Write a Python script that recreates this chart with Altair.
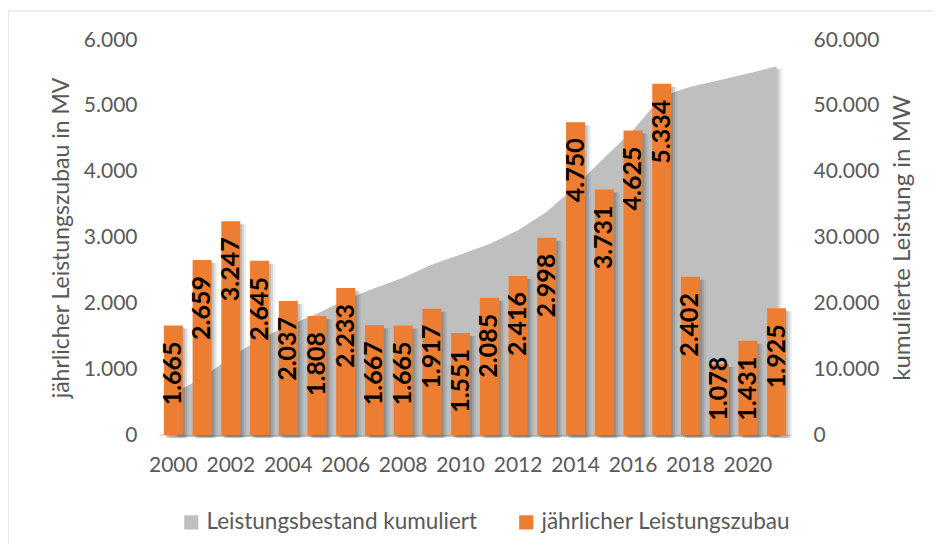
import altair as alt
import pandas as pd

years = list(range(2000, 2022))
zubau = [1665, 2659, 3247, 2645, 2037, 1808, 2233, 1667, 1665, 1917, 1551,
         2085, 2416, 2998, 4750, 3731, 4625, 5334, 2402, 1078, 1431, 1925]
kumuliert = [6300, 8700, 11800, 14600, 16600, 18400, 20600, 22300, 23900, 25900, 27400,
             29000, 31100, 33900, 37800, 42100, 46300, 51400, 52900, 53900, 54900, 56000]
even_years = years[::2]
left_ticks = [0, 1000, 2000, 3000, 4000, 5000, 6000]
right_ticks = [0, 10000, 20000, 30000, 40000, 50000, 60000]

SER_K = "Leistungsbestand kumuliert"
SER_Z = "jährlicher Leistungszubau"

df_z = pd.DataFrame({
    "Jahr": years,
    "zubau": zubau,
    "label": [f"{v:,}".replace(",", ".") for v in zubau],
    "serie": SER_Z,
})
df_k = pd.DataFrame({"Jahr": years, "kum": kumuliert, "serie": SER_K})

FONT = "Lato"
TXT = "#595959"
DE_FMT = "replace(format(datum.value, ','), ',', '.')"

xscale = alt.Scale(paddingInner=0.34, paddingOuter=0.17)
xaxis = alt.Axis(values=even_years, title=None, labelAngle=0, labelFontSize=21,
                 labelColor=TXT, labelPadding=19, ticks=False, grid=False,
                 domainColor="#D9D9D9", domainWidth=1.5)
xenc = alt.X("Jahr:O", scale=xscale, axis=xaxis)

color = alt.Color(
    "serie:N",
    scale=alt.Scale(domain=[SER_K, SER_Z], range=["#BFBFBF", "#ED7D31"]),
    legend=alt.Legend(title=None, orient="none", legendX=21, legendY=471,
                      direction="horizontal", symbolType="square", symbolSize=200,
                      symbolStrokeWidth=0, labelFontSize=22.5, labelColor=TXT,
                      labelFont=FONT, columnPadding=37, labelOffset=4,
                      labelLimit=400),
)

yscale_l = alt.Scale(domain=[0, 6000], nice=False)
yscale_r = alt.Scale(domain=[0, 60000], nice=False)

yaxis_r = alt.Axis(orient="right", values=right_ticks, labelExpr=DE_FMT,
                   title="kumulierte Leistung in MW", grid=False, ticks=False,
                   domain=False, labelFontSize=21, labelColor=TXT,
                   labelPadding=22, titleFontSize=24, titleFontWeight="normal",
                   titleColor=TXT, titlePadding=12, titleAngle=270,
                   titleBaseline="top")
yaxis_l = alt.Axis(orient="left", values=left_ticks, labelExpr=DE_FMT,
                   title="jährlicher Leistungszubau in MV", grid=False,
                   ticks=False, domain=False, labelFontSize=21, labelColor=TXT,
                   labelPadding=22, titleFontSize=23, titleFontWeight="normal",
                   titleColor=TXT, titlePadding=10)

# right axis: cumulative area
area_sh = [
    alt.Chart(df_k).mark_area(color="black", opacity=op, xOffset=k, yOffset=2).encode(
        x=xenc, y=alt.Y("kum:Q", scale=yscale_r, axis=yaxis_r))
    for k, op in [(2, 0.10), (4, 0.08), (6, 0.05)]
]
area = alt.Chart(df_k).mark_area(opacity=1).encode(
    x=xenc,
    y=alt.Y("kum:Q", scale=yscale_r, axis=yaxis_r),
    color=color,
)
right = alt.layer(*area_sh, area)

# left axis: annual bars
bar_sh = [
    alt.Chart(df_z).mark_bar(color="black", opacity=op, xOffset=k, yOffset=3).encode(
        x=xenc, y=alt.Y("zubau:Q", scale=yscale_l, axis=yaxis_l))
    for k, op in [(2, 0.12), (4, 0.10), (6, 0.06)]
]
bars = alt.Chart(df_z).mark_bar().encode(
    x=xenc,
    y=alt.Y("zubau:Q", scale=yscale_l, axis=yaxis_l),
    color=color,
)
labels = alt.Chart(df_z).transform_calculate(
    labpos="max(datum.zubau, 1431)"
).mark_text(angle=270, align="right", baseline="middle", dx=-16, fontSize=25,
            fontWeight="bold", color="black", font=FONT).encode(
    x=xenc, y=alt.Y("labpos:Q", scale=yscale_l, axis=yaxis_l), text="label:N")

left = alt.layer(*bar_sh, bars, labels)

border = alt.Chart(pd.DataFrame({"a": [0]})).mark_rect(
    fillOpacity=0, stroke="#D9D9D9", strokeWidth=1.2).encode(
    x=alt.value(-151), x2=alt.value(800), y=alt.value(-29), y2=alt.value(560))

chart = alt.layer(right, left, border).resolve_scale(y="independent").properties(
    width=632, height=395,
    padding={"left": 151, "top": 32, "right": 142, "bottom": 109},
    autosize="none",
).configure(font=FONT).configure_view(strokeWidth=0)

chart.save("out.html", embed_options={"renderer": "svg", "actions": False})
